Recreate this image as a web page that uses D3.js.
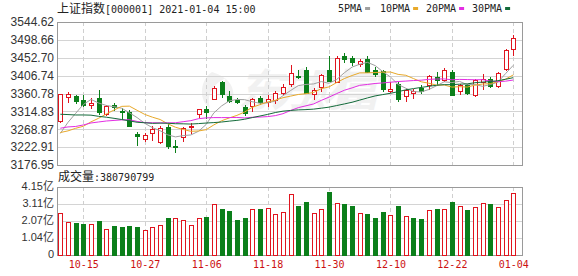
<!DOCTYPE html>
<html>
<head>
<meta charset="utf-8">
<script src="https://cdnjs.cloudflare.com/ajax/libs/d3/7.8.5/d3.min.js"></script>
<style>
  body { margin: 0; background: #fff; }
  svg { display: block; }
</style>
</head>
<body>
<svg id="chart"></svg>
<script>
// trading days shown
const dates = ["10-12","10-13","10-14","10-15","10-16","10-19","10-20","10-21","10-22","10-23",
  "10-26","10-27","10-28","10-29","10-30","11-02","11-03","11-04","11-05","11-06",
  "11-09","11-10","11-11","11-12","11-13","11-16","11-17","11-18","11-19","11-20",
  "11-23","11-24","11-25","11-26","11-27","11-30","12-01","12-02","12-03","12-04",
  "12-07","12-08","12-09","12-10","12-11","12-14","12-15","12-16","12-17","12-18",
  "12-21","12-22","12-23","12-24","12-25","12-28","12-29","12-30","12-31","01-04"];

const opens = [3289,3352,3354,3345,3332,3350,3309,3331,3316,3314,
  3256,3243,3258,3235,3274,3227,3250,3275,3307,3322,
  3346,3391,3355,3344,3327,3328,3349,3338,3344,3362,
  3384,3406,3420,3360,3378,3421,3391,3456,3451,3437,
  3450,3420,3419,3366,3385,3355,3362,3376,3382,3403,
  3395,3416,3366,3382,3356,3390,3399,3379,3424,3474];
const highs = [3359,3364,3356,3357,3349,3371,3330,3336,3324,3318,
  3262,3258,3276,3277,3282,3242,3275,3284,3321,3328,
  3381,3393,3366,3350,3330,3350,3354,3356,3368,3386,
  3434,3420,3428,3374,3412,3457,3457,3465,3456,3450,
  3456,3428,3422,3390,3391,3372,3372,3382,3408,3416,
  3426,3422,3386,3386,3398,3411,3404,3416,3474,3511];
const lows = [3285,3337,3335,3326,3322,3306,3302,3316,3293,3274,
  3226,3235,3238,3230,3219,3209,3236,3256,3297,3296,
  3343,3348,3337,3333,3304,3313,3330,3326,3334,3357,
  3378,3398,3360,3344,3364,3390,3388,3440,3432,3430,
  3413,3402,3365,3361,3340,3340,3347,3360,3370,3382,
  3391,3355,3356,3358,3352,3370,3376,3375,3419,3457];
const closes = [3358.47,3359.75,3340.61,3332.18,3336.36,3312.50,3328.10,3325.03,3312.16,3278.00,
  3251.12,3254.32,3269.24,3272.74,3224.53,3225.12,3271.07,3277.44,3320.13,3312.16,
  3373.73,3360.15,3342.20,3338.68,3310.10,3346.97,3339.90,3347.30,3363.09,3377.73,
  3414.49,3402.82,3362.33,3369.73,3408.31,3391.76,3451.94,3449.38,3442.14,3444.58,
  3416.60,3410.18,3371.96,3373.28,3347.19,3369.12,3367.23,3366.98,3404.87,3394.90,
  3420.57,3356.78,3382.32,3363.11,3396.56,3397.29,3379.04,3414.45,3473.07,3502.96];
// closes before 10-12, only used for the moving averages
const priorCloses = [3385.64,3373.58,3329.74,3350.11,3403.81,3395.68,3410.61,3404.80,3384.98,3355.37,
  3292.59,3316.42,3254.63,3234.82,3260.35,3278.81,3295.68,3283.92,3270.44,3338.09,
  3316.94,3274.30,3279.71,3223.18,3219.42,3217.53,3224.36,3218.05,3272.08];
// volume in 亿
const volumes = [2.55,2.02,1.98,1.92,1.92,2.10,1.60,1.74,1.68,1.74,
  1.68,1.50,1.72,1.84,2.28,2.28,2.14,1.86,2.26,2.34,
  3.11,2.81,2.69,2.16,2.28,2.79,2.81,2.85,2.51,2.61,
  3.75,2.99,3.23,2.55,2.79,3.83,3.15,3.11,2.99,2.55,
  2.51,2.28,2.63,2.44,2.99,2.38,2.28,2.22,2.73,2.81,
  2.79,3.23,2.99,2.75,2.91,3.15,3.11,2.91,3.35,3.81];
const lastVolume = "380790799";

const priceTicks = [3544.62,3498.66,3452.70,3406.74,3360.78,3314.83,3268.87,3222.91,3176.95];
const volTicks = [4.15,3.11,2.07,1.04,0];
const xTickLabels = ["10-15","10-27","11-06","11-18","11-30","12-10","12-22","01-04"];
const maPeriods = [5,10,20,30];
const maColors = ["#a0a0a0","#e8a92a","#e32ee3","#136b3a"];

const W = 578, H = 276;
const left = 57, right = 522;
const top1 = 22, bot1 = 165;
const top2 = 187, bot2 = 255;
const RED = "#e0141e", GREEN = "#0b7f1a";

const svg = d3.select("#chart").attr("width", W).attr("height", H);

const x = d3.scalePoint().domain(dates).range([60.3, 513.3]);
const y = d3.scaleLinear().domain([priceTicks[8], priceTicks[0]]).range([bot1, top1]);
const yv = d3.scaleLinear().domain([0, 4.15]).range([bot2, top2]);
const px = d => Math.round(x(d));

// watermark
const wm = svg.append("g").attr("opacity", 0.55);
wm.append("text")
  .attr("x", 238).attr("y", 106)
  .attr("font-family", "Noto Sans CJK SC").attr("font-size", 44).attr("font-weight", "bold")
  .attr("font-style", "italic").attr("fill", "#e6e6e6")
  .attr("textLength", 142)
  .text("东方财富");
wm.append("path")
  .attr("d", "M212,72 C200,80 198,100 210,108 C206,96 212,84 226,78 C222,88 224,98 232,104 C236,90 232,78 212,72 Z")
  .attr("fill", "#e6e6e6");

// grids
function grid(yScale, ticks, y0, y1) {
  svg.append("g").selectAll("line").data(ticks).join("line")
    .attr("x1", left).attr("x2", right)
    .attr("y1", d => Math.round(yScale(d)) + 0.5).attr("y2", d => Math.round(yScale(d)) + 0.5)
    .attr("stroke", "#d4d4d4");
  svg.append("g").selectAll("line").data(xTickLabels).join("line")
    .attr("x1", d => px(d) + 0.5).attr("x2", d => px(d) + 0.5)
    .attr("y1", y0).attr("y2", y1)
    .attr("stroke", "#cfcfcf").attr("stroke-dasharray", "4,3");
  svg.append("rect")
    .attr("x", left + 0.5).attr("y", y0 + 0.5)
    .attr("width", right - left).attr("height", y1 - y0)
    .attr("fill", "none").attr("stroke", "#9a9a9a");
}
grid(y, priceTicks, top1, bot1);
grid(yv, volTicks, top2, bot2);

// axes labels
const yAxis = d3.axisLeft(y).tickValues(priceTicks).tickSize(0).tickPadding(3)
  .tickFormat(d3.format(".2f"));
svg.append("g").attr("transform", `translate(${left},0)`).call(yAxis)
  .call(g => g.select(".domain").remove())
  .selectAll("text").attr("font-family", "Liberation Sans, Arial").attr("font-size", 12).attr("fill", "#333");

const vAxis = d3.axisLeft(yv).tickValues(volTicks).tickSize(0).tickPadding(3)
  .tickFormat(d => d === 0 ? "0" : d3.format(".2f")(d) + "亿");
svg.append("g").attr("transform", `translate(${left},-1)`).call(vAxis)
  .call(g => g.select(".domain").remove())
  .selectAll("text").attr("font-family", "Liberation Sans, Noto Sans CJK SC").attr("font-size", 11).attr("fill", "#333");

const xAxis = d3.axisBottom(x).tickValues(xTickLabels).tickSize(0).tickPadding(6);
svg.append("g").attr("transform", `translate(0,${bot2})`).call(xAxis)
  .call(g => g.select(".domain").remove())
  .selectAll("text").attr("font-family", "DejaVu Sans Mono").attr("font-size", 10).attr("fill", "#cc1111");

// candles
const idx = d3.range(dates.length);
const candles = svg.append("g");
idx.forEach(i => {
  const cx = px(dates[i]);
  const o = opens[i], c = closes[i];
  const up = c >= o;
  const col = up ? RED : GREEN;
  const yTop = Math.round(y(Math.max(o, c)));
  const yBot = Math.max(yTop + 1, Math.round(y(Math.min(o, c))));
  const yHi = Math.round(y(highs[i])), yLo = Math.round(y(lows[i]));
  if (up) {
    candles.append("line").attr("x1", cx + 0.5).attr("x2", cx + 0.5).attr("y1", yHi).attr("y2", yTop).attr("stroke", col);
    candles.append("line").attr("x1", cx + 0.5).attr("x2", cx + 0.5).attr("y1", yBot + 1).attr("y2", yLo).attr("stroke", col);
    candles.append("rect").attr("x", cx - 1.5).attr("y", yTop + 0.5).attr("width", 4).attr("height", Math.max(1, yBot - yTop))
      .attr("fill", "#fff").attr("stroke", col);
  } else {
    candles.append("line").attr("x1", cx + 0.5).attr("x2", cx + 0.5).attr("y1", yHi).attr("y2", yLo).attr("stroke", col);
    candles.append("rect").attr("x", cx - 2).attr("y", yTop).attr("width", 5).attr("height", Math.max(1, yBot - yTop + 1))
      .attr("fill", col);
  }
});

// moving averages
const allCloses = priorCloses.concat(closes);
const off = priorCloses.length;
maPeriods.forEach((n, k) => {
  const vals = idx.map(i => d3.mean(allCloses.slice(off + i - n + 1, off + i + 1)));
  svg.append("path")
    .datum(vals)
    .attr("d", d3.line().x((v, i) => x(dates[i])).y(v => y(v)))
    .attr("fill", "none").attr("stroke", maColors[k]).attr("stroke-width", 1);
});

// volume bars, colour by change against previous close
const vbars = svg.append("g");
idx.forEach(i => {
  const cx = px(dates[i]);
  const prev = i === 0 ? priorCloses[priorCloses.length - 1] : closes[i - 1];
  const up = closes[i] >= prev;
  const yt = Math.round(yv(volumes[i]));
  if (up) {
    vbars.append("rect").attr("x", cx - 1.5).attr("y", yt + 0.5).attr("width", 4).attr("height", bot2 - yt)
      .attr("fill", "#fff").attr("stroke", RED);
  } else {
    vbars.append("rect").attr("x", cx - 2).attr("y", yt).attr("width", 5).attr("height", bot2 - yt + 1)
      .attr("fill", GREEN);
  }
});

// header texts
const title = svg.append("text").attr("x", left).attr("y", 13).attr("fill", "#222");
title.append("tspan").attr("font-family", "Noto Sans CJK SC").attr("font-size", 12).text("上证指数");
title.append("tspan").attr("font-family", "DejaVu Sans Mono").attr("font-size", 10).text("[000001] 2021-01-04 15:00");

const legend = svg.append("g");
const legX = [338, 380, 426, 472];
maPeriods.forEach((n, k) => {
  const label = n + "PMA";
  legend.append("text").attr("x", legX[k]).attr("y", 12)
    .attr("font-family", "DejaVu Sans Mono").attr("font-size", 10).attr("fill", "#222")
    .text(label);
  legend.append("rect").attr("x", legX[k] + label.length * 6.02 + 3).attr("y", 7)
    .attr("width", 5).attr("height", 3).attr("fill", maColors[k]);
});

const vt = svg.append("text").attr("x", left + 1).attr("y", 181).attr("fill", "#222");
vt.append("tspan").attr("font-family", "Noto Sans CJK SC").attr("font-size", 12).text("成交量");
vt.append("tspan").attr("font-family", "DejaVu Sans Mono").attr("font-size", 10).text(":" + lastVolume);
</script>
</body>
</html>
